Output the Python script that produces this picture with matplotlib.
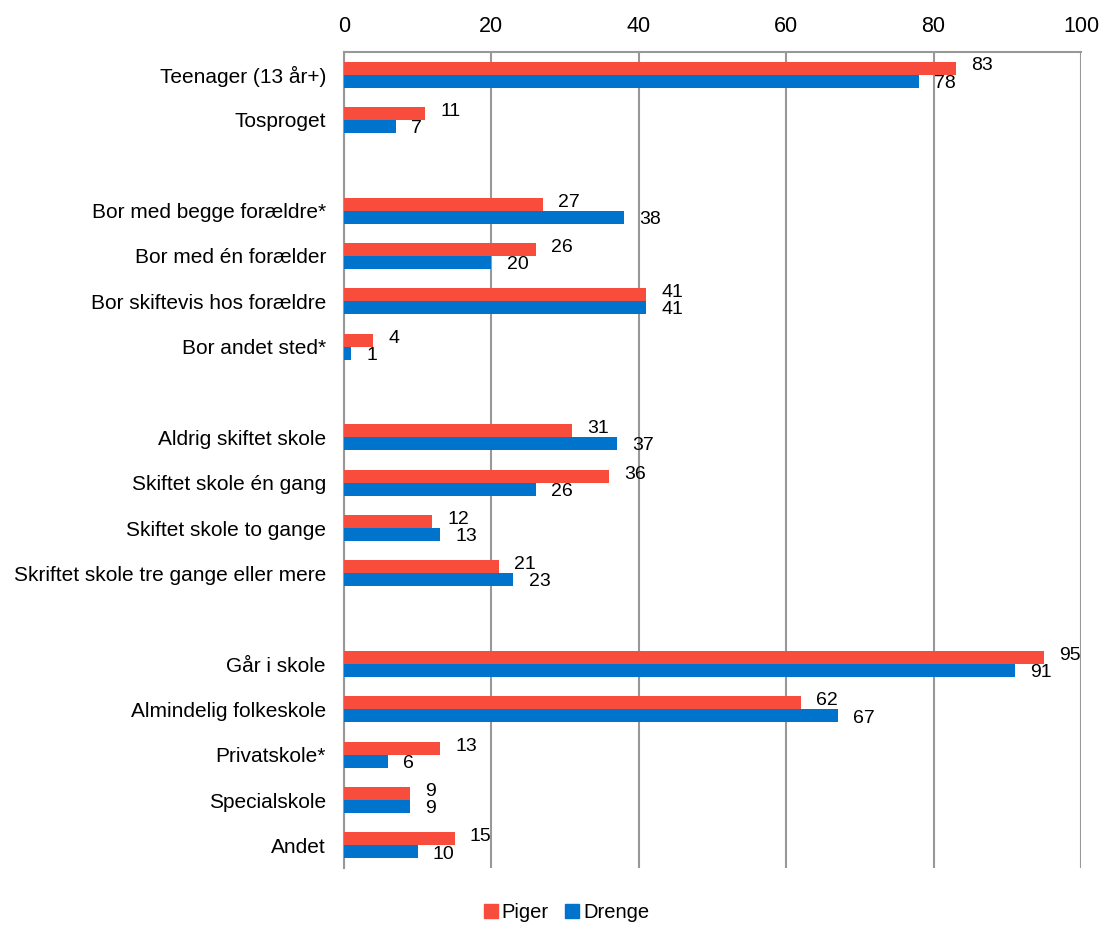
import numpy as np
import matplotlib.pyplot as plt
from matplotlib.patches import Patch

plt.rcParams['font.family'] = ['Liberation Sans', 'DejaVu Sans']

# categories top to bottom, None = empty spacer row
categories = ['Teenager (13 år+)', 'Tosproget', None,
              'Bor med begge forældre*', 'Bor med én forælder',
              'Bor skiftevis hos forældre', 'Bor andet sted*', None,
              'Aldrig skiftet skole', 'Skiftet skole én gang',
              'Skiftet skole to gange', 'Skriftet skole tre gange eller mere', None,
              'Går i skole', 'Almindelig folkeskole', 'Privatskole*',
              'Specialskole', 'Andet']
piger = [83, 11, None, 27, 26, 41, 4, None, 31, 36, 12, 21, None, 95, 62, 13, 9, 15]
drenge = [78, 7, None, 38, 20, 41, 1, None, 37, 26, 13, 23, None, 91, 67, 6, 9, 10]
xticks = [0, 20, 40, 60, 80, 100]

red = '#F84C3C'
blue = '#0073CC'
grid_c = '#989898'

fig = plt.figure(figsize=(11, 9.25), dpi=100)
ax = fig.add_axes([0.3127, 0.0616, 0.67, 0.8822])

n = len(categories)
y = np.arange(n)
h = 0.29
for i in range(n):
    if piger[i] is None:
        continue
    ax.barh(y[i] - h / 2, piger[i], height=h, color=red, zorder=3)
    ax.barh(y[i] + h / 2, drenge[i], height=h, color=blue, zorder=3)
    ax.annotate(str(piger[i]), (piger[i], y[i] - h / 2), xytext=(11, 1.5),
                textcoords='offset points', ha='left', va='center', fontsize=14)
    ax.annotate(str(drenge[i]), (drenge[i], y[i] + h / 2), xytext=(11, -1.5),
                textcoords='offset points', ha='left', va='center', fontsize=14)

ax.set_ylim(n - 0.5, -0.5)
ax.set_xlim(0, 100)
ax.set_yticks([i for i in range(n) if categories[i] is not None])
ax.set_yticklabels([c for c in categories if c is not None], fontsize=15)
ax.set_xticks(xticks)
ax.xaxis.tick_top()
ax.tick_params(axis='x', length=0, pad=11, labelsize=15.5)
ax.tick_params(axis='y', length=0, pad=13)
ax.grid(axis='x', color=grid_c, lw=1.5, zorder=0)
for s in ['right', 'bottom']:
    ax.spines[s].set_visible(False)
for s in ['left', 'top']:
    ax.spines[s].set_color(grid_c)
    ax.spines[s].set_linewidth(1.5)

handles = [Patch(color=red, label='Piger'), Patch(color=blue, label='Drenge')]
fig.legend(handles=handles, loc='center', bbox_to_anchor=(0.515, 0.013), ncol=2,
           frameon=False, fontsize=14.5, handlelength=0.7, handleheight=0.7,
           handletextpad=0.2, columnspacing=0.8)

fig.savefig('out.png', dpi=100)
